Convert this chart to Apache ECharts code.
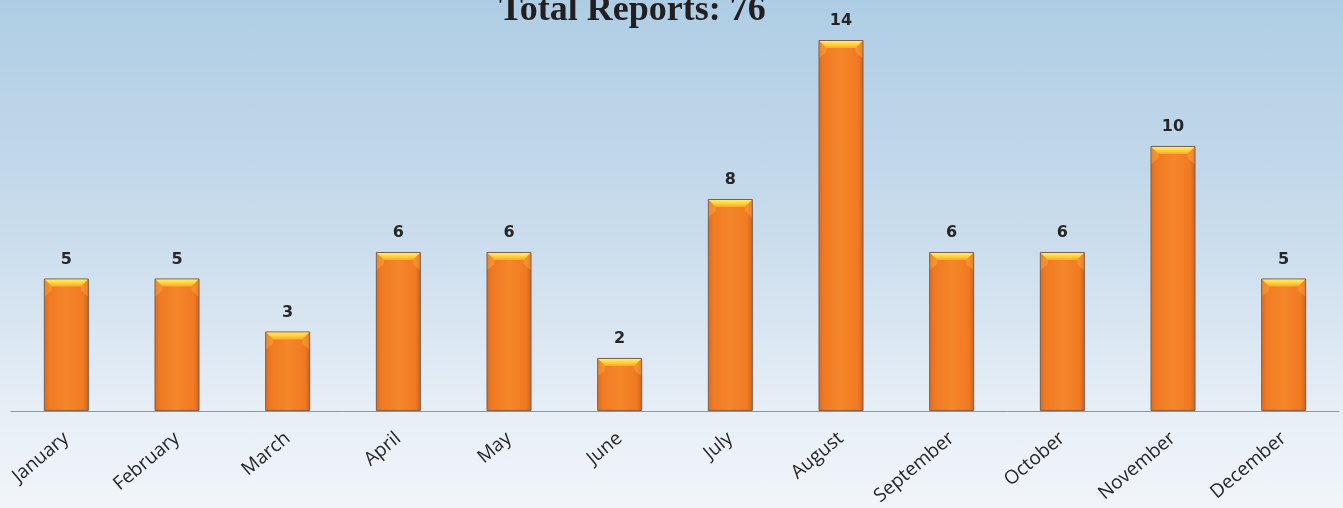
<!DOCTYPE html>
<html>
<head>
<meta charset="utf-8">
<script src="https://cdn.jsdelivr.net/npm/echarts@6/dist/echarts.min.js"></script>
<style>
html,body{margin:0;padding:0;}
#c{width:1343px;height:508px;background:linear-gradient(to bottom,#aecde4 0%,#c9dcec 45%,#e6eef6 80%,#f1f5f9 100%);}
</style>
</head>
<body>
<div id="c"></div>
<script>
const titleText = 'Total Reports: 76';
const months = ['January','February','March','April','May','June','July','August','September','October','November','December'];
const reports = [5,5,3,6,6,2,8,14,6,6,10,5];

const chart = echarts.init(document.getElementById('c'), null, {renderer:'canvas'});
const barW = 45;
chart.setOption({
  backgroundColor: 'transparent',
  animation: false,
  title: {
    text: titleText,
    left: 494,
    top: -12,
    textStyle: {fontFamily: 'Liberation Serif', fontWeight: 'bold', fontSize: 36, color: '#231f20'}
  },
  grid: {left: 11, right: 4, top: 40, bottom: 96, containLabel: false},
  xAxis: {
    type: 'category',
    data: months,
    axisLine: {lineStyle: {color: '#8e959c', width: 1}},
    axisTick: {show: false},
    axisLabel: {rotate: 40, fontSize: 19, color: '#262626', fontFamily: 'Open Sans', margin: 25}
  },
  yAxis: {type: 'value', min: 0, max: 14, show: false, splitLine: {show: false}},
  series: [
    {
      type: 'bar',
      data: reports,
      barWidth: barW,
      itemStyle: {
        color: new echarts.graphic.LinearGradient(0,0,1,0,[
          {offset:0,color:'#dc6a1f'},{offset:0.12,color:'#f07a22'},{offset:0.5,color:'#f5862a'},{offset:0.88,color:'#f07a22'},{offset:1,color:'#d0621c'}
        ]),
        borderColor: '#7a5d4c',
        borderWidth: 1
      },
      label: {show: true, position: 'top', distance: 11, fontSize: 16, fontWeight: 'bold', color: '#262626', fontFamily: 'DejaVu Sans'}
    },
    {
      type: 'custom',
      data: reports,
      z: 5,
      renderItem: function(params, api){
        const top = api.coord([api.value(0), api.value(1)]);
        const w = barW;
        const x0 = top[0] - w/2 + 1, x1 = top[0] + w/2 - 1, y = top[1] + 1;
        const h = 7;
        return {
          type: 'group',
          children: [
            {
              type: 'polygon',
              shape: {points: [[x0,y],[x1,y],[x1-h,y+h],[x0+h,y+h]]},
              style: {fill: new echarts.graphic.LinearGradient(0,0,0,1,[{offset:0,color:'#fff06a'},{offset:0.5,color:'#ffd23c'},{offset:1,color:'#f9a82a'}])}
            },
            {
              type: 'polygon',
              shape: {points: [[x0,y],[x0+h,y+h],[x0+h,y+h+4],[x0,y+h+10]]},
              style: {fill: 'rgba(255,190,70,0.35)'}
            },
            {
              type: 'polygon',
              shape: {points: [[x1,y],[x1-h,y+h],[x1-h,y+h+4],[x1,y+h+10]]},
              style: {fill: 'rgba(255,190,70,0.35)'}
            }
          ]
        };
      },
      encode: {x: 0, y: 1}
    }
  ]
});
</script>
</body>
</html>
